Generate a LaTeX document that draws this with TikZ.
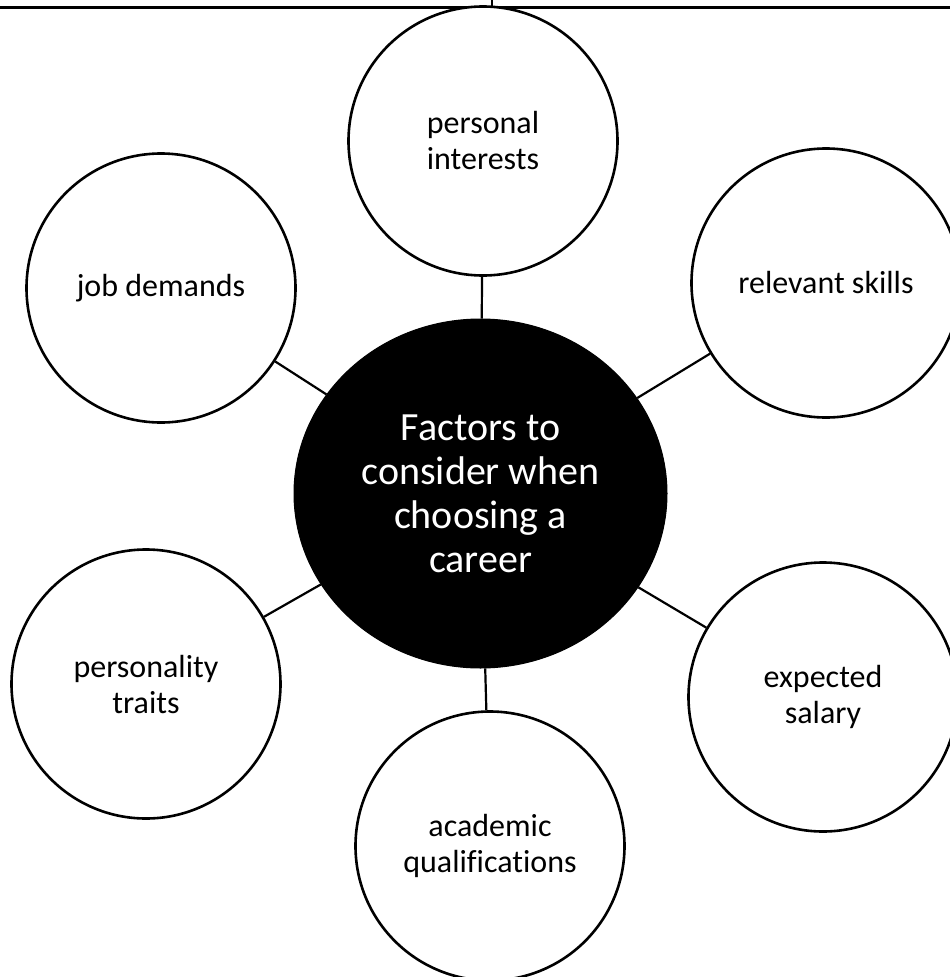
\documentclass[tikz,border=0pt]{standalone}
\usepackage{fontspec}
\setmainfont{Carlito}[Ligatures={NoCommon}]
\usetikzlibrary{shapes.geometric}
\tikzset{
  factor/.style={circle, draw=black, line width=2.6pt, fill=white, minimum size=269pt, inner sep=0pt,
    align=center, text=black, font=\fontsize{32}{36}\selectfont},
  hub/.style={ellipse, fill=black, draw=black, line width=1pt, minimum width=373pt, minimum height=349pt,
    inner sep=0pt, align=center, text=white, font=\fontsize{40}{44}\selectfont},
  link/.style={draw=black, line width=2.2pt}
}
\begin{document}
\begin{tikzpicture}[x=1pt,y=-1pt]
\useasboundingbox (0,0) rectangle (950,977);
\clip (0,0) rectangle (950,977);
\fill[white] (0,0) rectangle (950,977);
% top frame line and tick
\coordinate (tl) at (0,7);
\coordinate (tr) at (950,7);
\coordinate (tt) at (492,0);
\coordinate (tb) at (492,7);
\draw[line width=3pt] (tl) -- (tr);
\draw[line width=1.8pt] (tt) -- (tb);
% nodes
\node[hub] (c) at (480.5,493.5) {Factors to\\consider when\\choosing a\\career};
\node[factor] (pi) at (483,141) {personal\\interests};
\node[factor] (rs) at (826,283) {relevant skills};
\node[factor] (es) at (823,697) {expected\\salary};
\node[factor] (aq) at (490,846) {academic\\qualifications};
\node[factor] (pt) at (146,684) {personality\\traits};
\node[factor] (jd) at (161,288) {job demands};
% connectors
\draw[link] (c) -- (pi);
\draw[link] (c) -- (rs);
\draw[link] (c) -- (es);
\draw[link] (c) -- (aq);
\draw[link] (c) -- (pt);
\draw[link] (c) -- (jd);
\end{tikzpicture}
\end{document}
